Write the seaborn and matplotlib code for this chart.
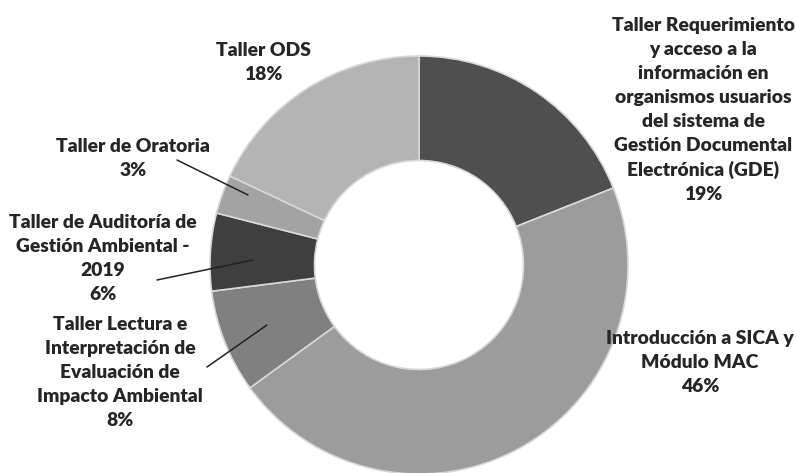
import matplotlib
matplotlib.use("Agg")
import matplotlib.pyplot as plt
import seaborn as sns

sns.set_theme(style="white")
plt.rcParams['font.family'] = ['Lato', 'DejaVu Sans']

labels = [
    "Taller Requerimiento\ny acceso a la\ninformación en\norganismos usuarios\ndel sistema de\nGestión Documental\nElectrónica (GDE)",
    "Introducción a SICA y\nMódulo MAC",
    "Taller Lectura e\nInterpretación de\nEvaluación de\nImpacto Ambiental",
    "Taller de Auditoría de\nGestión Ambiental -\n2019",
    "Taller de Oratoria",
    "Taller ODS",
]
values = [19, 46, 8, 6, 3, 18]
colors = ["#4f4f4f", "#9c9c9c", "#808080", "#3f3f3f", "#a3a3a3", "#b4b4b4"]

W, H = 796, 473
CX, CY, R = 419, 265, 209

fig = plt.figure(figsize=(W / 100, H / 100), dpi=100)
ax = fig.add_axes([0, 0, 1, 1])

wedges, _ = ax.pie(values, colors=colors, startangle=90, counterclock=False,
                   radius=1.0, wedgeprops=dict(width=0.5, edgecolor="#d8d8d8", linewidth=1.2))
ax.set_xlim(-CX / R, (W - CX) / R)
ax.set_ylim((CY - H) / R, CY / R)
ax.set_aspect("auto")
ax.axis("off")

def px(x, y):
    return ((x - CX) / R, (CY - y) / R)

# label positions (pixel centres) and leader lines
label_pos = [(703, 110), (700, 362), (120, 372), (103, 258), (133, 159), (263, 63)]
leaders = {
    2: ((207, 367), (267, 325)),
    3: ((157, 280), (253, 260)),
    4: ((177, 160), (248, 195)),
}
txtcolor = "#262626"
for i, (lab, v) in enumerate(zip(labels, values)):
    x, y = px(*label_pos[i])
    ax.text(x, y, f"{lab}\n{v}%", ha="center", va="center", fontsize=13.9,
            fontweight="heavy", color=txtcolor, linespacing=1.5)
for i, (a, b) in leaders.items():
    xa, ya = px(*a)
    xb, yb = px(*b)
    ax.plot([xa, xb], [ya, yb], color="#222222", lw=1.1)

fig.savefig("out.png", dpi=100)
